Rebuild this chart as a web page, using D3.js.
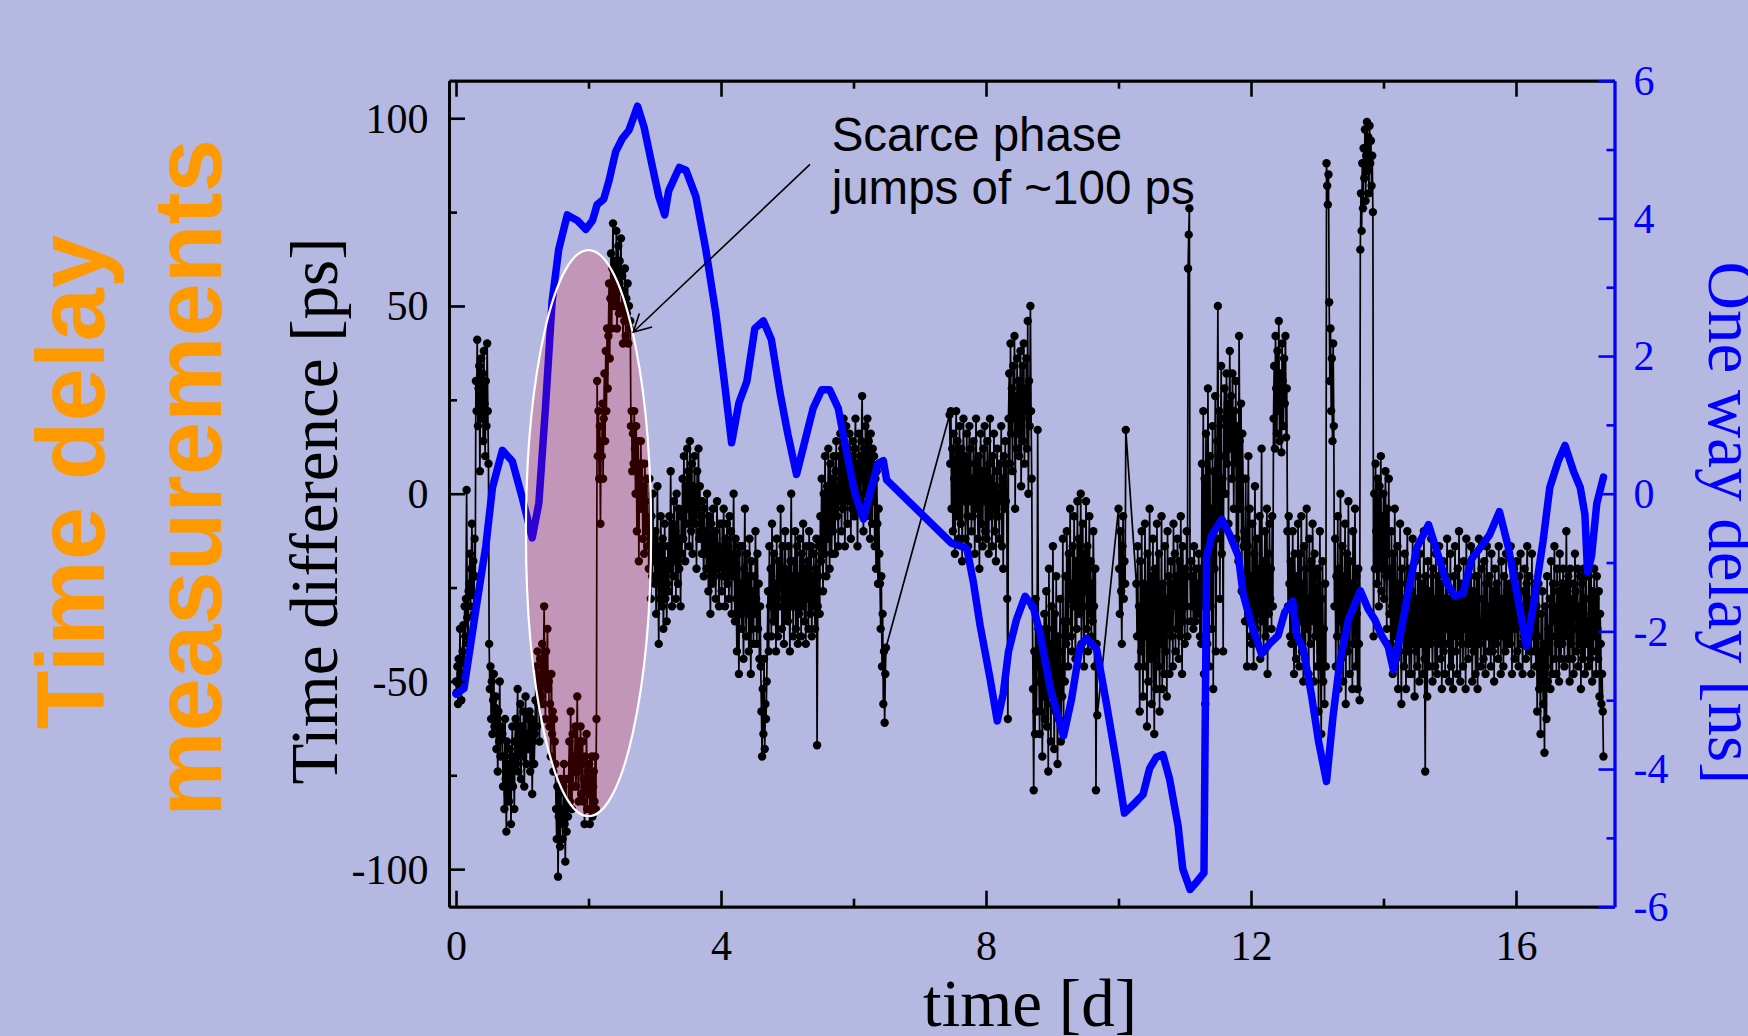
<!DOCTYPE html>
<html>
<head>
<meta charset="utf-8">
<script src="https://cdn.jsdelivr.net/npm/d3@7"></script>
<style>
  html, body { margin: 0; padding: 0; background: #b5b8e1; }
  svg { display: block; }
</style>
</head>
<body>
<div class="chart"></div>
<script>
// time difference [ps], one sample every 0.01 d, one array per day (null = no data)
const sampleStep = 0.01;
const diff00 = [-50,-53,-46,-56,-44,-51,-36,-48,-55,-45, -42,-35,-48,-30,-38,-28,1,-33,-40,-26, -24,-16,-30,-20,-8,-27,-18,-32,-12,-22, 30,22,41,18,28,34,6,26,36,20, 32,14,38,24,10,30,18,40,22,8, -40,-52,-46,-60,-50,-64,-55,-48,-62,-57, -54,-68,-60,-74,-58,-66,-50,-70,-62,-65, -64,-78,-70,-84,-60,-76,-90,-66,-80,-72, -82,-68,-75,-88,-70,-62,-78,-72,-84,-66, -60,-72,-66,-52,-74,-62,-70,-56,-76,-64];
const diff01 = [-62,-70,-58,-78,-66,-54,-72,-64,-68,-60, -68,-58,-74,-64,-60,-80,-66,-62,-72,-64, -55,-46,-62,-42,-56,-50,-66,-44,-54,-48, -40,-56,-46,-30,-50,-60,-42,-48,-36,-52, -50,-62,-56,-70,-48,-64,-58,-74,-60,-66, -72,-84,-92,-78,-102,-86,-80,-94,-76,-88, -84,-92,-78,-72,-88,-98,-76,-90,-82,-86, -76,-66,-82,-58,-72,-84,-64,-78,-70,-74, -62,-78,-70,-54,-74,-82,-66,-72,-62,-80, -72,-66,-82,-76,-88,-70,-78,-64,-84,-74];
const diff02 = [-80,-72,-88,-76,-84,-70,-86,-78,-74,-82, -70,-84,-60,30,10,22,4,18,-8,14, 10,24,4,20,32,14,38,22,44,28, 42,56,36,52,64,44,60,72,50,58, 62,50,70,44,58,66,48,62,54,68, 50,58,40,54,46,60,42,52,48,56, 40,50,44,46,18,22,6,16,8,22, 12,0,18,-10,6,14,-18,8,-2,14, -4,8,-12,2,-16,8,-2,-10,4,-14, -8,-20,4,-14,-28,-6,-22,0,-18,-12];
const diff03 = [-24,-10,-32,-16,2,-22,-40,-14,-28,-6, -20,-30,-12,-36,-24,-8,-28,-18,-34,-24, -14,-26,-6,-20,6,-16,-30,-8,-22,-2, -18,-10,-28,0,-14,-24,-4,-20,-12,-30, -6,-16,4,-12,10,-4,-18,2,-8,12, -4,6,-14,14,-2,-10,8,-16,2,-6, 10,-8,0,-20,6,-4,12,-12,2,-10, -6,-16,-2,-12,-22,-4,-16,-10,-20,0, -12,-26,-6,-20,-32,-8,-16,-24,-4,-18, -22,-10,-28,-16,-2,-20,-14,-30,-8,-18];
const diff04 = [-16,-26,-8,-22,-4,-18,-30,-12,-22,-8, -24,-14,-28,-6,-20,-10,-32,-16,-22,0, -20,-34,-12,-28,-42,-16,-26,-48,-14,-32, -24,-36,-14,-30,-44,-20,-4,-28,-38,-16, -32,-22,-42,-12,-28,-48,-18,-36,-26,-40, -22,-32,-10,-28,-40,-16,-36,-24,-44,-30, -46,-58,-70,-52,-64,-44,-68,-56,-60,-50, -38,-26,-42,-14,-30,-20,-38,-8,-26,-34, -16,-34,-24,-42,-12,-28,-38,-18,-30,-22, -4,-24,-36,-14,-30,-40,-20,-10,-32,-26];
const diff05 = [-22,-34,-14,-28,-42,-18,0,-30,-22,-38, -18,-30,-10,-36,-24,-14,-40,-22,-32,-12, -26,-38,-16,-30,-8,-22,-34,-20,-40,-14, -28,-18,-36,-10,-24,-32,-14,-38,-22,-30, -16,-26,-36,-20,-12,-67,-30,-22,-14,-32, -6,-18,4,-12,-26,0,-16,10,-8,-22, 2,-12,12,-6,-20,8,-2,-16,4,-10, 10,-4,-16,6,14,-6,2,-14,10,-2, 16,4,-10,12,-4,20,0,-14,8,18, 4,-8,12,-2,16,6,-12,10,-4,14];
const diff06 = [2,-6,12,20,-4,8,-14,4,16,-2, 10,-4,14,26,4,-10,12,0,18,-6, 8,20,-2,14,2,-12,16,6,-8,12, -2,10,-14,4,-20,6,-8,-24,-4,-16, -24,-36,-22,-46,-32,-56,-42,-61,-48,-41, null,null,null,null,null,null,null,null,null,null, null,null,null,null,null,null,null,null,null,null, null,null,null,null,null,null,null,null,null,null, null,null,null,null,null,null,null,null,null,null, null,null,null,null,null,null,null,null,null,null];
const diff07 = [null,null,null,null,null,null,null,null,null,null, null,null,null,null,null,null,null,null,null,null, null,null,null,null,null,null,null,null,null,null, null,null,null,null,null,null,null,null,null,null, null,null,null,null,null,21,8,22,-4,12, -10,16,4,-16,8,22,-6,14,0,-12, 18,4,-8,12,-18,6,20,-2,10,-12, 2,16,-6,-14,8,18,-2,12,-10,4, -6,14,2,-16,8,20,-4,6,-12,10, -20,4,16,-8,6,-14,12,-2,18,-10];
const diff08 = [6,-12,14,0,-16,8,20,-6,4,-14, 10,-4,16,-10,2,-18,6,12,-6,0, -12,8,-2,18,-14,4,-20,10,-4,14, -2,8,-28,-60,20,32,8,40,16,28, 6,34,20,42,-4,26,12,36,16,30, 10,24,38,2,20,34,14,40,8,28, 22,36,12,46,0,30,18,50,22,4, -30,-52,-79,-42,-64,-28,-58,-46,17,-36, -50,-64,-36,-58,-44,-70,-40,-54,-32,-60, -46,-26,-62,-36,-74,-20,-52,-40,-66,-30];
const diff09 = [-56,-14,-44,-68,-32,-58,-22,-50,-72,-38, -60,-42,-28,-66,-46,-54,-12,-62,-34,-50, -22,-40,-10,-34,-46,-16,-28,-4,-38,-24, -42,-14,-30,-6,-26,-44,-18,-36,-2,-30, -12,-32,-22,0,-40,-18,-8,-30,-46,-16, -26,-2,-36,-14,-42,-20,-6,-32,-18,-38, -24,-34,-10,-30,-46,-20,-79,-40,-59,null, null,null,null,null,null,null,null,null,null,null, null,null,null,null,null,null,null,null,null,null, null,null,null,null,null,null,null,null,null,null];
const diff10 = [-4,-20,-32,-10,-26,-40,-14,-6,-28,-18, -24,17,null,null,null,null,null,null,null,null, null,null,null,null,null,null,null,-24,-38,-14, -46,-30,-58,-18,-42,-10,-36,-54,-24,-46, -8,-38,-26,-62,-16,-50,-32,-4,-44,-22, -56,-28,-12,-42,-64,-20,-36,-52,-8,-30, -46,-16,-58,-26,-40,-6,-52,-24,-34,-48, -14,-42,-28,-54,-10,-36,-22,-48,-32,-18, -38,-24,-46,-8,-30,-16,-42,-22,-36,-12, -28,-44,-18,-38,-6,-26,-48,-14,-34,-22];
const diff11 = [-40,-20,-30,-10,-38,60,69,76,-22,-34, -18,-30,-22,-36,-14,-28,-34,-20,-30,-24, -32,-16,-26,-38,-20,-40,8,-30,22,-48, 4,-56,16,-22,-40,28,-10,-46,10,-30, -4,-36,18,-52,6,-20,26,-42,-12,14, 50,-6,22,-28,10,34,-16,4,-42,20, 28,0,18,32,8,24,-8,20,38,12, 26,4,32,16,-4,22,10,30,-12,18, 8,-18,42,14,-4,24,-26,16,4,-14, -10,-34,4,-22,-46,-14,10,-30,-4,-38];
const diff12 = [-22,-40,-8,-30,-46,-16,2,-36,-26,-12, -40,-20,-32,-6,-44,-28,12,-34,-18,-42, -24,-10,-38,-30,-4,-48,-16,-32,-8,-28, -20,-36,-6,-30,20,34,12,42,28,16, 38,22,46,14,32,26,11,40,30,18, 36,24,42,15,28,-10,-30,-6,-24,-38, -18,-40,-28,-10,-34,-48,-16,-30,-44,-22, -38,-8,-26,-46,-16,-34,-6,-42,-24,-50, -14,-32,-44,-20,-4,-36,-28,-48,-12,-30, -40,-18,-34,-8,-26,-50,-16,-38,-22,-32];
const diff13 = [-46,-20,-58,-34,-10,-42,-64,-28,-18,-50, -36,-56,-24,-46,88,82,77,85,51,30, 44,22,36,14,40,18,-30,-12,-46,-22, -38,-6,-52,-20,-34,0,-44,-26,-14,-50, -22,-36,-8,-56,-28,-16,-42,-2,-32,-48, -18,-34,-24,-52,-10,-40,-30,-4,-46,-22, -32,-52,-20,-40,-55,65,80,70,88,76, 92,84,97,78,90,99,86,95,80,98, 88,94,82,90,75,-38,0,-20,8,-10, -24,4,-14,-30,2,-18,10,-26,-6,-20];
const diff14 = [0,-28,-12,6,-22,-36,-4,-16,4,-32, -20,-40,-10,-30,-48,-16,-38,-4,-26,-44, -34,-14,-52,-24,-42,-8,-32,-56,-20,-38, -28,-46,-16,-36,-52,-24,-10,-42,-30,-48, -20,-34,-48,-26,-12,-40,-30,-54,-18,-42, -28,-46,-22,-36,-50,-16,-34,-40,-24,-48, -30,-10,-44,-74,-22,-38,-54,-18,-34,-46, -26,-40,-12,-32,-50,-20,-38,-28,-46,-16, -34,-48,-22,-40,-14,-30,-44,-24,-52,-34, -18,-42,-28,-48,-22,-36,-12,-40,-28,-50];
const diff15 = [-32,-16,-46,-26,-38,-52,-22,-36,-14,-42, -28,-48,-20,-38,-10,-34,-50,-24,-40,-30, -46,-18,-36,-28,-52,-12,-40,-22,-44,-32, -22,-40,-14,-34,-50,-26,-42,-16,-30,-48, -36,-22,-52,-28,-12,-40,-34,-46,-20,-38, -28,-44,-18,-36,-48,-24,-14,-38,-30,-42, -22,-36,-46,-16,-32,-42,-26,-50,-20,-34, -40,-24,-30,-44,-14,-36,-28,-48,-18,-38, -28,-46,-22,-34,-42,-16,-38,-26,-40,-32, -24,-40,-14,-30,-48,-24,-36,-20,-44,-28];
const diff16 = [-36,-18,-42,-28,-46,-22,-34,-16,-40,-30, -48,-26,-38,-20,-36,-44,-24,-14,-40,-32, -22,-42,-30,-48,-16,-38,-28,-42,-24,-34, -46,-30,-58,-38,-24,-52,-42,-64,-32,-50, -26,-56,-40,-69,-30,-46,-60,-22,-50,-36, -42,-28,-52,-18,-38,-48,-24,-34,-14,-44, -30,-48,-20,-40,-26,-50,-16,-36,-44,-24, -40,-20,-32,-46,-24,-38,-10,-30,-44,-22, -34,-50,-20,-40,-28,-44,-24,-48,-32,-16, -26,-42,-36,-20,-46,-30,-40,-22,-52,-32];
const diff17 = [-24,-44,-20,-38,-48,-28,-22,-40,-34,-46, -22,-36,-44,-16,-32,-50,-26,-42,-20,-38, -28,-48,-22,-36,-44,-26,-54,-32,-40,-56, -48,-58,-70];

// one way delay [ns], [time d, delay ns]
const delayPoints = [
  [0.00,-2.91],[0.12,-2.83],[0.30,-1.68],[0.45,-0.76],[0.55,0.09],[0.70,0.63],[0.85,0.47],[1.00,-0.06],
  [1.15,-0.64],[1.25,-0.14],[1.35,1.25],[1.45,2.79],[1.55,3.55],[1.68,4.05],[1.83,3.97],[1.96,3.84],
  [2.06,3.97],[2.13,4.20],[2.23,4.28],[2.31,4.55],[2.41,4.97],[2.51,5.16],[2.61,5.28],[2.74,5.63],
  [2.84,5.32],[2.94,4.86],[3.06,4.32],[3.15,4.05],[3.21,4.40],[3.37,4.74],[3.47,4.70],[3.62,4.32],
  [3.77,3.55],[3.92,2.63],[4.05,1.63],[4.16,0.74],[4.27,1.32],[4.39,1.63],[4.51,2.40],[4.64,2.51],
  [4.76,2.24],[4.89,1.47],[5.01,0.86],[5.14,0.28],[5.27,0.78],[5.39,1.24],[5.52,1.51],[5.64,1.51],
  [5.77,1.24],[5.89,0.63],[6.02,0.01],[6.15,-0.37],[6.27,0.09],[6.37,0.44],[6.45,0.48],[6.50,0.20],
  [7.48,-0.72],[7.71,-0.79],[7.81,-1.29],[7.91,-1.91],[8.06,-2.68],[8.17,-3.30],[8.26,-2.91],[8.34,-2.29],
  [8.46,-1.83],[8.59,-1.49],[8.71,-1.64],[8.81,-2.00],[8.97,-2.83],[9.17,-3.52],[9.29,-2.99],[9.42,-2.22],
  [9.52,-2.10],[9.67,-2.26],[9.82,-3.06],[9.97,-3.91],[10.09,-4.64],[10.22,-4.52],[10.37,-4.37],[10.47,-3.99],
  [10.57,-3.83],[10.67,-3.79],[10.77,-4.14],[10.90,-4.83],[10.97,-5.45],[11.08,-5.75],[11.18,-5.64],[11.29,-5.51],
  [11.33,-0.91],[11.41,-0.60],[11.56,-0.37],[11.68,-0.60],[11.81,-0.91],[11.88,-1.45],[12.01,-1.91],[12.16,-2.33],
  [12.28,-2.18],[12.41,-2.06],[12.51,-1.72],[12.63,-1.56],[12.69,-2.06],[12.79,-2.26],[12.91,-2.91],[13.02,-3.60],
  [13.14,-4.18],[13.24,-3.22],[13.34,-2.45],[13.47,-1.83],[13.65,-1.41],[13.77,-1.68],[13.87,-1.83],[13.97,-2.06],
  [14.07,-2.22],[14.15,-2.56],[14.25,-2.06],[14.37,-1.45],[14.50,-0.79],[14.68,-0.45],[14.83,-0.91],[14.95,-1.29],
  [15.08,-1.49],[15.20,-1.45],[15.33,-0.95],[15.48,-0.76],[15.60,-0.60],[15.75,-0.26],[15.88,-0.76],[16.03,-1.53],
  [16.16,-2.22],[16.29,-1.45],[16.41,-0.68],[16.51,0.09],[16.64,0.48],[16.74,0.70],[16.87,0.32],[16.97,0.09],
  [17.04,-0.30],[17.08,-1.14],[17.14,-0.91],[17.22,-0.14],[17.32,0.24]
];

const leftMajor = [-100, -50, 0, 50, 100];
const leftMinor = [-75, -25, 25, 75];
const rightMajor = [-6, -4, -2, 0, 2, 4, 6];
const rightMinor = [-5, -3, -1, 1, 3, 5];
const timeMajor = [0, 4, 8, 12, 16];
const timeMinor = [2, 6, 10, 14];

// highlighted region (data units) and note
const jumpMark = { t: 2.0, v: -10.5, dt: 0.945, dv: 75.4 };
const noteLines = ["Scarce phase", "jumps of ~100 ps"];
const noteAt = { t: 5.67, v: 91.3 };
const arrowFrom = { t: 5.343, v: 87.7 };
const arrowTo = { t: 2.676, v: 43.07 };

// flatten
const days = [diff00, diff01, diff02, diff03, diff04, diff05, diff06, diff07, diff08,
              diff09, diff10, diff11, diff12, diff13, diff14, diff15, diff16, diff17];
const samples = [];
days.forEach((arr, d) => {
  arr.forEach((v, j) => {
    if (v !== null) samples.push({ t: d + j * sampleStep, v: v });
  });
});

const W = 1748, H = 1036;
const serif = "'Liberation Serif', 'Times New Roman', serif";
const sans = "'Liberation Sans', Arial, sans-serif";

const svg = d3.select(".chart").append("svg")
  .attr("width", W).attr("height", H);

svg.append("rect").attr("width", W).attr("height", H).attr("fill", "#b5b8e1");

const x = d3.scaleLinear().domain([-0.106, 17.487]).range([449, 1614.5]);
const y = d3.scaleLinear().domain([-110, 110]).range([906.7, 80.7]);
const yR = d3.scaleLinear().domain([-6, 6]).range([906.7, 80.7]);

// black series
const lineDiff = d3.line().x(d => x(d.t)).y(d => y(d.v));
svg.append("path")
  .datum(samples)
  .attr("d", lineDiff)
  .attr("fill", "none")
  .attr("stroke", "#000")
  .attr("stroke-width", 1.7);

svg.append("g").attr("class", "dots")
  .selectAll("circle")
  .data(samples).enter()
  .append("circle")
    .attr("cx", d => x(d.t))
    .attr("cy", d => y(d.v))
    .attr("r", 4.2)
    .attr("fill", "#000");

// blue one way delay
const lineDelay = d3.line().x(d => x(d[0])).y(d => yR(d[1]));
svg.append("path")
  .datum(delayPoints)
  .attr("d", lineDelay)
  .attr("fill", "none")
  .attr("stroke", "#0000ff")
  .attr("stroke-width", 7.5)
  .attr("stroke-linejoin", "round")
  .attr("stroke-linecap", "round");

// ellipse overlay
svg.append("ellipse")
  .attr("cx", x(jumpMark.t))
  .attr("cy", y(jumpMark.v))
  .attr("rx", x(jumpMark.t + jumpMark.dt) - x(jumpMark.t))
  .attr("ry", y(jumpMark.v - jumpMark.dv) - y(jumpMark.v))
  .attr("fill", "rgb(255,0,0)")
  .attr("fill-opacity", 0.18)
  .attr("stroke", "#ffffff")
  .attr("stroke-width", 2.2);

// axes
function styleAxis(g, color) {
  g.attr("font-family", serif).attr("font-size", 42);
  g.selectAll("path.domain").attr("stroke", color).attr("stroke-width", 2.8);
  g.selectAll(".tick line").attr("stroke", color).attr("stroke-width", 2.6);
  g.selectAll(".tick text").attr("fill", color);
}

const gBottom = svg.append("g").attr("transform", "translate(0,906.7)")
  .call(d3.axisBottom(x).tickValues(timeMajor).tickSize(-16).tickSizeOuter(0).tickPadding(23.5).tickFormat(d3.format("d")));
styleAxis(gBottom, "#000");
svg.append("g").attr("transform", "translate(0,906.7)")
  .call(d3.axisBottom(x).tickValues(timeMinor).tickSize(-8).tickSizeOuter(0).tickFormat(""))
  .call(g => styleAxis(g, "#000"));

svg.append("g").attr("transform", "translate(0,80.7)")
  .call(d3.axisTop(x).tickValues(timeMajor).tickSize(-16).tickSizeOuter(0).tickFormat(""))
  .call(g => styleAxis(g, "#000"));
svg.append("g").attr("transform", "translate(0,80.7)")
  .call(d3.axisTop(x).tickValues(timeMinor).tickSize(-8).tickSizeOuter(0).tickFormat(""))
  .call(g => styleAxis(g, "#000"));

const gLeft = svg.append("g").attr("transform", "translate(449,0)")
  .call(d3.axisLeft(y).tickValues(leftMajor).tickSize(-16).tickSizeOuter(0).tickPadding(20.5).tickFormat(d3.format("d")));
styleAxis(gLeft, "#000");
gLeft.selectAll(".tick text").attr("dy", "0.33em");
svg.append("g").attr("transform", "translate(449,0)")
  .call(d3.axisLeft(y).tickValues(leftMinor).tickSize(-8).tickSizeOuter(0).tickFormat(""))
  .call(g => styleAxis(g, "#000"));

const gRight = svg.append("g").attr("transform", "translate(1614.5,0)")
  .call(d3.axisRight(yR).tickValues(rightMajor).tickSize(-16).tickSizeOuter(0).tickPadding(19).tickFormat(d3.format("d")));
styleAxis(gRight, "#0000ff");
gRight.selectAll(".tick text").attr("dy", "0.33em");
svg.append("g").attr("transform", "translate(1614.5,0)")
  .call(d3.axisRight(yR).tickValues(rightMinor).tickSize(-8).tickSizeOuter(0).tickFormat(""))
  .call(g => styleAxis(g, "#0000ff"));

// replace d3's unicode minus with a plain hyphen like the original
svg.selectAll(".tick text").text(function () { return d3.select(this).text().replace("\u2212", "-"); });

// axis titles
svg.append("text")
  .attr("transform", "translate(337,511) rotate(-90)")
  .attr("text-anchor", "middle")
  .attr("font-family", serif).attr("font-size", 67)
  .attr("fill", "#000")
  .text("Time difference [ps]");

svg.append("text")
  .attr("transform", "translate(1708.6,523) rotate(90)")
  .attr("text-anchor", "middle")
  .attr("font-family", serif).attr("font-size", 67)
  .attr("fill", "#0000ff")
  .text("One way delay [ns]");

svg.append("text")
  .attr("x", 1030).attr("y", 1026)
  .attr("text-anchor", "middle")
  .attr("font-family", serif).attr("font-size", 67)
  .attr("fill", "#000")
  .text("time [d]");

// slide title
svg.append("text")
  .attr("transform", "translate(104,482) rotate(-90)")
  .attr("text-anchor", "middle")
  .attr("font-family", sans).attr("font-weight", "bold").attr("font-size", 96)
  .attr("fill", "#ff9900")
  .text("Time delay");
svg.append("text")
  .attr("transform", "translate(221,478) rotate(-90)")
  .attr("text-anchor", "middle")
  .attr("font-family", sans).attr("font-weight", "bold").attr("font-size", 96)
  .attr("fill", "#ff9900")
  .text("measurements");

// note + arrow
svg.append("g")
  .selectAll("text")
  .data(noteLines).enter()
  .append("text")
    .attr("x", x(noteAt.t))
    .attr("y", (d, i) => y(noteAt.v) + i * 53.5)
    .attr("font-family", sans).attr("font-size", 47.5)
    .attr("fill", "#000")
    .text(d => d);

const ax0 = x(arrowFrom.t), ay0 = y(arrowFrom.v);
const ax1 = x(arrowTo.t), ay1 = y(arrowTo.v);
const ang = Math.atan2(ay0 - ay1, ax0 - ax1);
const headLen = 19.5, headAng = 28.5 * Math.PI / 180;
svg.append("path")
  .attr("d", `M${ax0},${ay0}L${ax1},${ay1}` +
    `M${ax1 + headLen * Math.cos(ang - headAng)},${ay1 + headLen * Math.sin(ang - headAng)}L${ax1},${ay1}` +
    `L${ax1 + headLen * Math.cos(ang + headAng)},${ay1 + headLen * Math.sin(ang + headAng)}`)
  .attr("fill", "none")
  .attr("stroke", "#000")
  .attr("stroke-width", 1.6);
</script>
</body>
</html>
